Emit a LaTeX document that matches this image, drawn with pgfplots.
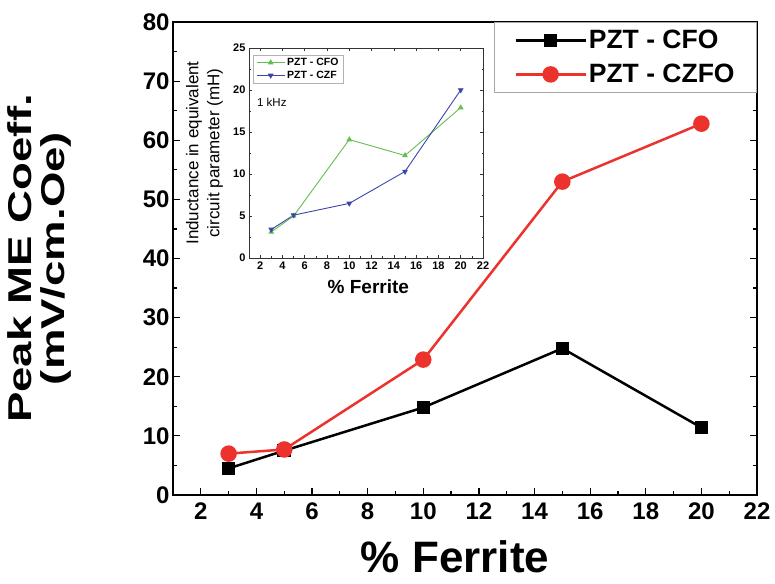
\documentclass[border=0pt]{standalone}
\usepackage{fontspec}
\setmainfont{Liberation Sans}
\usepackage{pgfplots}
\pgfplotsset{compat=1.18}
\definecolor{myred}{RGB}{236,50,44}
\definecolor{mygreen}{RGB}{100,190,80}
\definecolor{myblue}{RGB}{60,70,170}
\begin{document}
\begin{tikzpicture}
\path[use as bounding box] (-173pt,-88pt) rectangle (602pt,495pt);
\begin{axis}[
  at={(0pt,0pt)}, anchor=south west,
  scale only axis, width=584pt, height=473pt,
  xmin=1, xmax=22, ymin=0, ymax=80,
  xtick={2,4,...,22}, ytick={0,10,...,80},
  minor x tick num=1, minor y tick num=1,
  xtick pos=left, ytick pos=both,
  tick align=inside,
  major tick length=7pt, minor tick length=4pt,
  every tick/.style={black, line width=1.2pt},
  axis line style={line width=1.5pt},
  /pgf/number format/assume math mode=true,
  tick label style={font=\fontsize{24}{28}\selectfont\bfseries},
  xticklabel style={yshift=-4pt},
  xlabel={\% Ferrite},
  xlabel style={font=\fontsize{44}{48}\selectfont\bfseries, at={(axis description cs:0.483,0)}, anchor=base, yshift=-77pt},
  ylabel={\scalebox{1.38}[1]{\vbox{\baselineskip=33pt\halign{\hfil#\hfil\cr Peak ME Coeff.\cr (mV/cm.Oe)\cr}}}},
  ylabel style={font=\fontsize{33}{33}\selectfont\bfseries, at={(axis description cs:-0.229,0.5)}, anchor=center},
  legend style={at={(1,1)}, anchor=north east, draw=gray!70, line width=0.8pt,
    font=\fontsize{26.5}{30}\selectfont\bfseries, inner xsep=20pt, inner ysep=6pt,
    row sep=10pt, cells={anchor=west}},
  legend image code/.code={\draw[mark repeat=2, mark phase=2, #1] plot coordinates {(0pt,0pt) (35pt,0pt) (70pt,0pt)};},
]
\addplot[black, line width=2.5pt, mark=square*, mark size=5.5pt, mark options={solid}] coordinates {
  (3,4.5) (5,7.5) (10,14.8) (15,24.8) (20,11.4)};
\addlegendentry{PZT - CFO}
\addplot[myred, line width=2.5pt, mark=*, mark size=7pt, mark options={solid}] coordinates {
  (3,7.0) (5,7.7) (10,22.9) (15,53.0) (20,62.8)};
\addlegendentry{PZT - CZFO}
\end{axis}

\begin{axis}[
  at={(76pt,237pt)}, anchor=south west,
  scale only axis, width=234pt, height=210pt,
  axis background/.style={fill=white},
  xmin=1, xmax=22, ymin=0, ymax=25,
  xtick={2,4,...,22}, ytick={0,5,...,25},
  minor x tick num=1, minor y tick num=1,
  xtick pos=both, ytick pos=both,
  tick align=inside,
  major tick length=3pt, minor tick length=1.5pt,
  every tick/.style={black!80, line width=0.5pt},
  axis line style={line width=0.6pt, black!80},
  /pgf/number format/assume math mode=true,
  tick label style={font=\fontsize{11}{13}\selectfont\bfseries},
  xlabel={\% Ferrite},
  xlabel style={font=\fontsize{19}{22}\selectfont\bfseries, at={(axis description cs:0.51,0)}, anchor=base, yshift=-36pt},
  ylabel={Inductance in equivalent\\circuit parameter (mH)},
  ylabel style={font=\fontsize{17}{21}\selectfont, align=center, at={(axis description cs:-0.19,0.5)}, anchor=center},
  legend style={at={(0.017,0.967)}, anchor=north west, draw=gray!60, line width=0.5pt,
    font=\fontsize{10.5}{12}\selectfont\bfseries, inner xsep=3pt, inner ysep=1pt,
    row sep=0pt, cells={anchor=west}},
  legend image code/.code={\draw[mark repeat=2, mark phase=2, #1] plot coordinates {(0pt,0pt) (14pt,0pt) (28pt,0pt)};},
]
\addplot[mygreen, line width=0.9pt, mark=triangle*, mark size=2.5pt] coordinates {
  (3,3.1) (5,5.0) (10,14.1) (15,12.2) (20,17.9)};
\addlegendentry{PZT - CFO}
\addplot[myblue, line width=0.9pt, mark=triangle*, mark size=2.5pt, mark options={rotate=180}] coordinates {
  (3,3.4) (5,5.1) (10,6.5) (15,10.3) (20,20.0)};
\addlegendentry{PZT - CZF}
\node[anchor=west, font=\fontsize{11.5}{13}\selectfont, inner sep=0pt] at (axis description cs:0.034,0.743) {1 kHz};
\end{axis}
\end{tikzpicture}
\end{document}
